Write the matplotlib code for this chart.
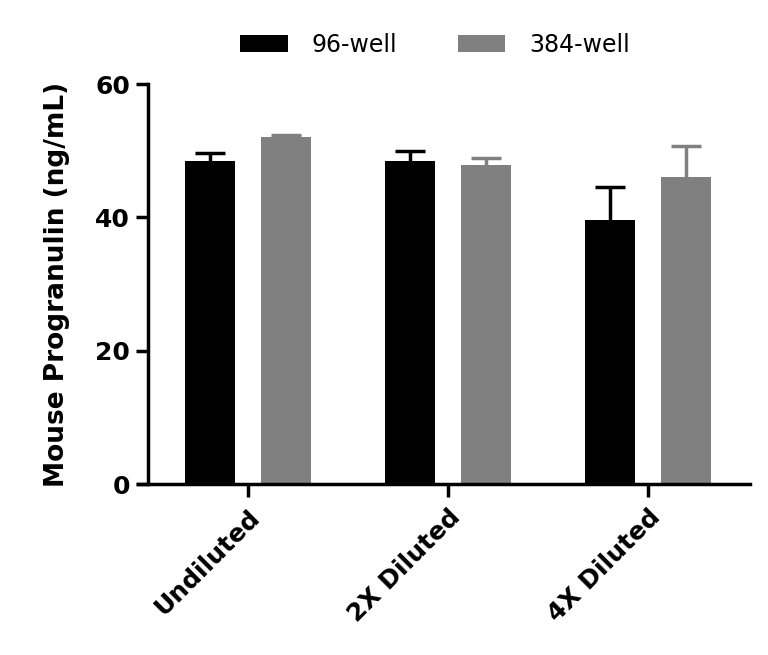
import matplotlib
matplotlib.use("Agg")
import matplotlib.pyplot as plt
import numpy as np

categories = ["Undiluted", "2X Diluted", "4X Diluted"]
series_names = ["96-well", "384-well"]
vals_96 = [48.5, 48.5, 39.6]
err_96 = [1.1, 1.4, 5.0]
vals_384 = [52.0, 47.9, 46.0]
err_384 = [0.3, 1.0, 4.7]
yticks = [0, 20, 40, 60]

plt.rcParams['font.family'] = ['DejaVu Sans']

fig = plt.figure(figsize=(7.68, 6.55), dpi=100)
ax = fig.add_axes([138/768, 1-484/655, (750-138)/768, 400/655])

x = np.arange(len(categories))
w = 0.25
off = 0.19
cols = ["#000000", "#808080"]
for vals, errs, sign, c, name in [(vals_96, err_96, -1, cols[0], series_names[0]),
                                   (vals_384, err_384, 1, cols[1], series_names[1])]:
    ax.bar(x + sign*off, vals, width=w, color=c, label=name, zorder=2)
    eb = ax.errorbar(x + sign*off, vals, yerr=[np.zeros(len(errs)), errs], fmt='none',
                     ecolor=c, elinewidth=2.5, capsize=11, capthick=2.5, zorder=1)
    eb[1][0].set_visible(False)

ax.set_xlim(-0.55, 2.51)
ax.set_ylim(0, 60)
ax.spines['top'].set_visible(False)
ax.spines['right'].set_visible(False)
ax.spines['left'].set_position(('data', -0.5))
ax.spines['left'].set_linewidth(2.5)
ax.spines['bottom'].set_linewidth(2.5)
ax.set_yticks(yticks)
ax.set_yticklabels([str(t) for t in yticks], fontsize=18, fontweight='bold')
ax.set_xticks(x)
ax.set_xticklabels(categories, rotation=45, ha='right', rotation_mode='anchor',
                   fontsize=18, fontweight='bold')
ax.tick_params(axis='both', width=2.5, length=9, direction='out')
ax.tick_params(axis='x', pad=6)
ax.tick_params(axis='y', pad=4)
ax.set_ylabel("Mouse Progranulin (ng/mL)", fontsize=19, fontweight='bold', labelpad=18)

leg = fig.legend(loc='center', bbox_to_anchor=(435/768, 1-45/655), ncol=2, frameon=False,
                 fontsize=17, handlelength=2.0, handleheight=0.7, columnspacing=2.6,
                 handletextpad=1.0)

fig.savefig("out.png", dpi=100)
